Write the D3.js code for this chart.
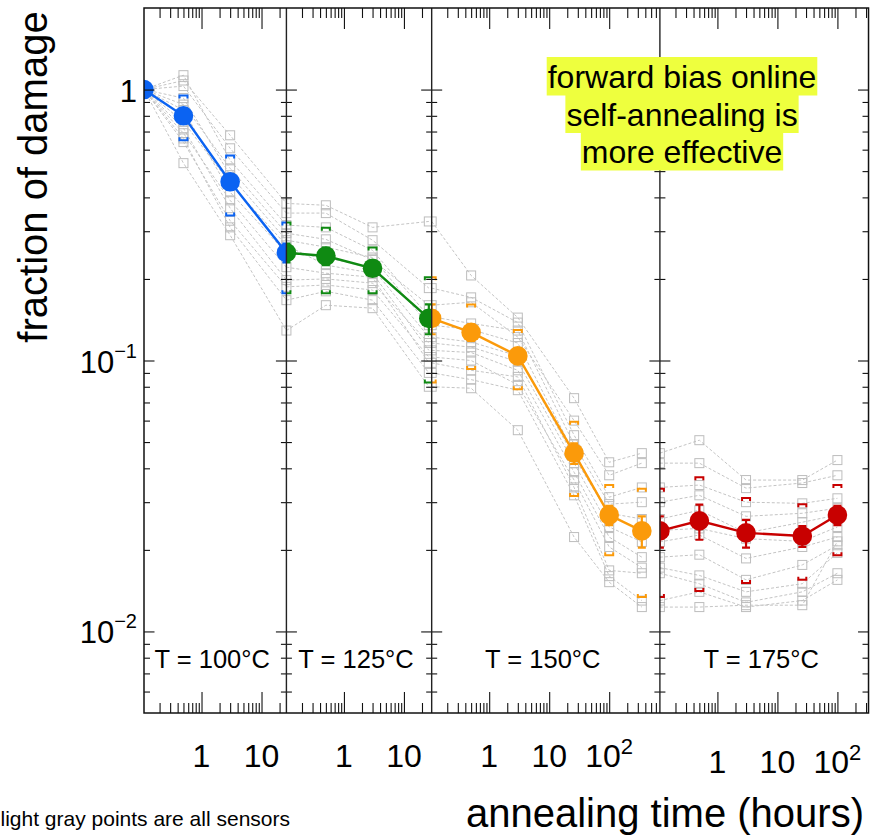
<!DOCTYPE html>
<html>
<head>
<meta charset="utf-8">
<script src="https://cdn.jsdelivr.net/npm/d3@7"></script>
<style>
  body { margin: 0; background: #fff; }
  svg { display: block; font-family: "Liberation Sans", Arial, Helvetica, sans-serif; }
</style>
</head>
<body>
<svg id="chart" width="873" height="836"></svg>
<script>
// ---- data -------------------------------------------------------------
// One panel per annealing temperature; time axis restarts in each panel.
const temperatures = ["T = 100°C", "T = 125°C", "T = 150°C", "T = 175°C"];
const timeRanges   = [[0.11, 26], [0.11, 29], [0.11, 700], [0.11, 330]];
const xLabelValues = [[1, 10], [1, 10], [1, 10, 100], [1, 10, 100]];
const yLabelValues = [1, 0.1, 0.01];

// annealing times (hours) inside each step; 0 = start of the step
const annealTimes = [
  [0, 0.5, 3, 26],
  [0, 0.5, 3, 26],
  [0, 0.5, 3, 26, 100, 350],
  [0, 0.5, 3, 26, 100]
];

// mean fraction of damage remaining
const meanDamage = [
  [1.0, 0.80, 0.457, 0.250],
  [0.250, 0.243, 0.219, 0.143],
  [0.143, 0.127, 0.104, 0.0455, 0.0269, 0.0235],
  [0.0235, 0.0256, 0.0231, 0.0225, 0.0269]
];
// error on the mean
const meanError = [
  [0, 0.04, 0.03, 0.02],
  [0.02, 0.018, 0.012, 0.018],
  [0.018, 0.009, 0.007, 0.004, 0.0022, 0.0031],
  [0.0031, 0.0038, 0.0027, 0.002, 0.0022]
];
// sensor-to-sensor spread (standard deviation)
const spread = [
  [0, 0.15, 0.114, 0.073],
  [0.073, 0.066, 0.042, 0.060],
  [0.060, 0.034, 0.0256, 0.0139, 0.0078, 0.0101],
  [0.0101, 0.0115, 0.008, 0.007, 0.0078]
];

// individual sensors s1..s12, values after each anneal of the step
// (the starting value of a step is the sensor's last value of the previous step)
const sensors100 = [
  [1.13, 0.548, 0.316], [1.08, 0.678, 0.38], [1.03, 0.607, 0.35], [0.93, 0.483, 0.278],
  [0.88, 0.512, 0.295], [0.84, 0.418, 0.249], [0.76, 0.451, 0.266], [0.72, 0.365, 0.198],
  [0.69, 0.390, 0.221], [0.66, 0.310, 0.167], [0.64, 0.328, 0.187], [0.535, 0.290, 0.129]
];
const sensors125 = [
  [0.31, 0.255, 0.145], [0.374, 0.31, 0.326], [0.35, 0.278, 0.185], [0.262, 0.24, 0.135],
  [0.28, 0.235, 0.16], [0.24, 0.219, 0.122], [0.225, 0.21, 0.109], [0.2, 0.193, 0.116],
  [0.21, 0.203, 0.098], [0.18, 0.167, 0.09], [0.19, 0.182, 0.103], [0.16, 0.156, 0.08]
];
const sensors150 = [
  [0.137, 0.129, 0.049, 0.0295, 0.030], [0.206, 0.144, 0.0726, 0.0421, 0.0455],
  [0.171, 0.138, 0.053, 0.0313, 0.034], [0.13, 0.116, 0.0455, 0.0273, 0.026],
  [0.164, 0.122, 0.060, 0.0377, 0.0418], [0.117, 0.104, 0.044, 0.0269, 0.0236],
  [0.107, 0.092, 0.0387, 0.0223, 0.0188], [0.112, 0.099, 0.0418, 0.0243, 0.0214],
  [0.092, 0.087, 0.034, 0.0168, 0.0164], [0.085, 0.0777, 0.0318, 0.016, 0.013],
  [0.100, 0.0813, 0.0362, 0.0205, 0.0172], [0.079, 0.0553, 0.0223, 0.0152, 0.0123]
];
const sensors175 = [
  [0.0318, 0.0266, 0.0273, 0.0285], [0.0508, 0.0362, 0.0362, 0.0429],
  [0.0347, 0.030, 0.0297, 0.031], [0.028, 0.0231, 0.0253, 0.0269],
  [0.0418, 0.0338, 0.0353, 0.0377], [0.024, 0.022, 0.0215, 0.0243],
  [0.0192, 0.0155, 0.0176, 0.0208], [0.0227, 0.0186, 0.0205, 0.0223],
  [0.015, 0.0128, 0.014, 0.0164], [0.014, 0.0123, 0.013, 0.0155],
  [0.0161, 0.014, 0.015, 0.0195], [0.0123, 0.0125, 0.0125, 0.0215]
];
const sensorSteps = [sensors100, sensors125, sensors150, sensors175];
const initialDamage = 1;

const seriesColors = ["#0b63f2", "#0f8a12", "#fb9a0a", "#c80000"];
const noteLines = ["forward bias online", "self-annealing is", "more effective"];

// ---- layout -----------------------------------------------------------
const plotTop = 8, plotBottom = 713, plotLeft = 144;
const decadePx = 60;
const xLabelDrop = [0, 0, 0, 6];

const svg = d3.select("#chart");
const y = d3.scaleLog().domain([0.005, 2]).range([plotBottom, plotTop]);

let cursor = plotLeft;
const panels = temperatures.map((label, i) => {
  const [lo, hi] = timeRanges[i];
  const w = decadePx * Math.log10(hi / lo);
  const x = d3.scaleLog().domain([lo, hi]).range([cursor, cursor + w]);
  const p = { i, label, x, left: cursor, right: cursor + w };
  cursor += w;
  return p;
});
const plotRight = cursor;

function logTicks([lo, hi]) {
  const major = [], minor = [];
  for (let k = -4; k <= 4; k++) {
    for (let m = 1; m <= 9; m++) {
      const v = +(m * Math.pow(10, k)).toPrecision(6);
      if (v > lo * 1.0001 && v < hi * 0.9999) (m === 1 ? major : minor).push(v);
    }
  }
  return { major, minor };
}

// sensor trajectories including the starting value of each step
const sensorSeries = [];
sensorSteps.forEach((step, p) => {
  sensorSeries.push(step.map((vals, s) => {
    const start = p === 0 ? initialDamage : sensorSteps[p - 1][s][sensorSteps[p - 1][s].length - 1];
    return [start, ...vals];
  }));
});

const defs = svg.append("defs");

// ---- panels ----------------------------------------------------------
panels.forEach(p => {
  const xPos = t => (t === 0 ? p.x.range()[0] : p.x(t));
  const times = annealTimes[p.i];
  const color = seriesColors[p.i];

  defs.append("clipPath").attr("id", "clip" + p.i)
    .append("rect")
    .attr("x", p.left).attr("y", plotTop)
    .attr("width", p.right - p.left).attr("height", plotBottom - plotTop);

  const g = svg.append("g").attr("clip-path", `url(#clip${p.i})`);

  // individual sensors
  const line = d3.line().x(d => xPos(d.t)).y(d => y(d.v));
  sensorSeries[p.i].forEach(vals => {
    const pts = vals.map((v, k) => ({ t: times[k], v }));
    g.append("path").datum(pts).attr("d", line)
      .attr("fill", "none").attr("stroke", "#c4c4c4")
      .attr("stroke-width", 1).attr("stroke-dasharray", "3,2");
    g.selectAll(null).data(pts).join("rect")
      .attr("x", d => xPos(d.t) - 4.5).attr("y", d => y(d.v) - 4.5)
      .attr("width", 9).attr("height", 9)
      .attr("fill", "none").attr("stroke", "#bdbdbd").attr("stroke-width", 1);
  });

  const pts = meanDamage[p.i].map((v, k) => ({
    t: times[k], v, sd: spread[p.i][k], se: meanError[p.i][k]
  }));

  // spread markers (upper and lower brackets)
  pts.filter(d => d.sd > 0).forEach(d => {
    const cx = xPos(d.t), yu = y(d.v + d.sd), yl = y(d.v - d.sd);
    g.append("path").attr("d", `M${cx - 4},${yu + 3}V${yu}H${cx + 4}V${yu + 3}`)
      .attr("fill", "none").attr("stroke", color).attr("stroke-width", 2);
    g.append("path").attr("d", `M${cx - 4},${yl - 3}V${yl}H${cx + 4}V${yl - 3}`)
      .attr("fill", "none").attr("stroke", color).attr("stroke-width", 2);
  });

  // mean curve
  g.append("path").datum(pts).attr("d", line)
    .attr("fill", "none").attr("stroke", color).attr("stroke-width", 2.4);

  // error on the mean
  pts.filter(d => d.se > 0).forEach(d => {
    const cx = xPos(d.t), yu = y(d.v + d.se), yl = y(d.v - d.se);
    g.append("path").attr("d", `M${cx},${yu}V${yl}M${cx - 4},${yu}H${cx + 4}M${cx - 4},${yl}H${cx + 4}`)
      .attr("fill", "none").attr("stroke", color).attr("stroke-width", 2.2);
  });

  g.selectAll(null).data(pts).join("circle")
    .attr("cx", d => xPos(d.t)).attr("cy", d => y(d.v)).attr("r", 9.8)
    .attr("fill", color);

  // time axis ticks, top and bottom
  const { major, minor } = logTicks(p.x.domain());
  const styleTicks = sel => {
    sel.select(".domain").remove();
    sel.selectAll(".tick text").remove();
    sel.selectAll(".tick line").attr("stroke", "#111").attr("stroke-width", 1.1);
  };
  svg.append("g").attr("transform", `translate(0,${plotTop})`)
    .call(d3.axisBottom(p.x).tickValues(minor).tickSize(10)).call(styleTicks);
  svg.append("g").attr("transform", `translate(0,${plotTop})`)
    .call(d3.axisBottom(p.x).tickValues(major).tickSize(21)).call(styleTicks);
  svg.append("g").attr("transform", `translate(0,${plotBottom})`)
    .call(d3.axisTop(p.x).tickValues(minor).tickSize(10)).call(styleTicks);
  svg.append("g").attr("transform", `translate(0,${plotBottom})`)
    .call(d3.axisTop(p.x).tickValues(major).tickSize(21)).call(styleTicks);

  // time labels
  xLabelValues[p.i].forEach(v => {
    const exp = Math.round(Math.log10(v));
    const t = svg.append("text")
      .attr("x", p.x(v)).attr("y", 767 + xLabelDrop[p.i])
      .attr("text-anchor", "middle").attr("font-size", 32).attr("fill", "#000");
    if (exp < 2) {
      t.text(String(v));
    } else {
      t.append("tspan").text("10");
      t.append("tspan").attr("font-size", 22).attr("dy", -13).text(String(exp));
    }
  });

  // temperature label
  svg.append("text")
    .attr("x", (p.left + p.right) / 2 - 3).attr("y", 668)
    .attr("text-anchor", "middle").attr("font-size", 25.5).attr("fill", "#000")
    .text(p.label);
});

// ---- damage axis ticks on every panel boundary -----------------------
const yt = logTicks(y.domain());
const styleY = sel => {
  sel.select(".domain").remove();
  sel.selectAll(".tick text").remove();
  sel.selectAll(".tick line").attr("stroke", "#111").attr("stroke-width", 1.1);
};
const edges = [plotLeft, ...panels.map(p => p.right)];
edges.forEach((ex, k) => {
  const inner = k > 0 && k < edges.length - 1;
  if (k < edges.length - 1) {
    svg.append("g").attr("transform", `translate(${ex},0)`)
      .call(d3.axisRight(y).tickValues(yt.minor).tickSize(inner ? 5.5 : 6)).call(styleY);
    svg.append("g").attr("transform", `translate(${ex},0)`)
      .call(d3.axisRight(y).tickValues(yt.major).tickSize(10.5)).call(styleY);
  }
  if (k > 0) {
    svg.append("g").attr("transform", `translate(${ex},0)`)
      .call(d3.axisLeft(y).tickValues(yt.minor).tickSize(inner ? 5.5 : 6)).call(styleY);
    svg.append("g").attr("transform", `translate(${ex},0)`)
      .call(d3.axisLeft(y).tickValues(yt.major).tickSize(10.5)).call(styleY);
  }
});

// panel dividers and frame
panels.slice(1).forEach(p => {
  svg.append("line").attr("x1", p.left).attr("x2", p.left)
    .attr("y1", plotTop).attr("y2", plotBottom)
    .attr("stroke", "#222").attr("stroke-width", 1.4);
});
svg.append("rect").attr("x", plotLeft).attr("y", plotTop)
  .attr("width", plotRight - plotLeft).attr("height", plotBottom - plotTop)
  .attr("fill", "none").attr("stroke", "#111").attr("stroke-width", 1.5);

// damage labels
yLabelValues.forEach(v => {
  const exp = Math.round(Math.log10(v));
  const t = svg.append("text").attr("x", 137).attr("y", y(v) + 12)
    .attr("text-anchor", "end").attr("font-size", 31).attr("fill", "#000");
  if (exp === 0) {
    t.text("1");
  } else {
    t.append("tspan").text("10");
    t.append("tspan").attr("font-size", 20).attr("dy", -15).text("\u2212" + (-exp));
  }
});

// axis titles
svg.append("text")
  .attr("transform", "translate(47,177) rotate(-90)")
  .attr("text-anchor", "middle").attr("font-size", 40).attr("fill", "#000")
  .text("fraction of damage");
svg.append("text")
  .attr("x", 864).attr("y", 827).attr("text-anchor", "end")
  .attr("font-size", 40).attr("fill", "#000")
  .text("annealing time (hours)");

// highlighted note
const noteX = 682;
noteLines.forEach((s, k) => {
  const base = 88 + k * 37.5;
  const txt = svg.append("text").attr("x", noteX).attr("y", base)
    .attr("text-anchor", "middle").attr("font-size", 32).attr("fill", "#000").text(s);
  const w = txt.node().getComputedTextLength();
  svg.insert("rect", () => txt.node())
    .attr("x", noteX - w / 2 - 1).attr("y", base - 31)
    .attr("width", w + 2).attr("height", 38.5)
    .attr("fill", "#eeff3e");
});

// footnote
svg.append("text").attr("x", 0.5).attr("y", 826)
  .attr("font-size", 21).attr("fill", "#000")
  .text("light gray points are all sensors");
</script>
</body>
</html>
